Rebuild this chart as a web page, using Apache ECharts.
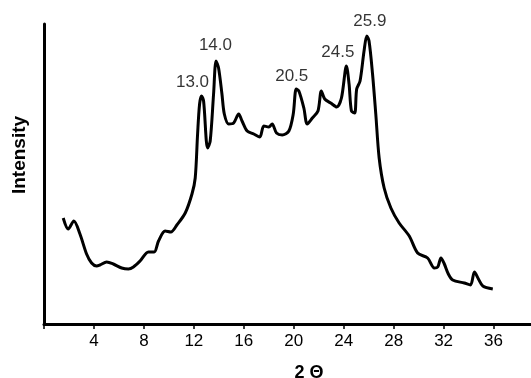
<!DOCTYPE html>
<html>
<head>
<meta charset="utf-8">
<script src="https://cdn.jsdelivr.net/npm/echarts@6/dist/echarts.min.js"></script>
<style>
  html, body { margin: 0; padding: 0; background: #fff; }
  #xrd { width: 531px; height: 378px; }
</style>
</head>
<body>
<div id="xrd"></div>
<script>
// 2θ positions and intensity (arbitrary units)
var theta = [1.54, 1.94, 2.39, 2.88, 3.41, 3.81, 4.21, 4.48, 5.02, 5.55, 6.22, 6.76, 7.16, 7.69, 8.36, 8.82,
  9.17, 9.70, 10.16, 10.64, 11.31, 11.85, 12.11, 12.30, 12.46, 12.62, 12.78, 13.10, 13.31, 13.58, 13.78, 13.98,
  14.25, 14.44, 14.79, 15.19, 15.59, 15.86, 16.27, 16.80, 17.28, 17.60, 18.00, 18.27, 18.62, 19.08, 19.61, 19.96,
  20.20, 20.41, 20.81, 21.08, 21.49, 21.94, 22.21, 22.48, 22.96, 23.44, 23.82, 24.22, 24.43, 24.62, 24.88, 25.04,
  25.31, 25.63, 25.85, 26.03, 26.31, 26.57, 26.84, 27.24, 27.78, 28.44, 29.25, 29.92, 30.72, 31.26, 31.53, 31.79,
  32.06, 32.38, 32.73, 33.66, 34.15, 34.47, 34.79, 35.14, 35.94]
var intensity = [106, 95, 103, 90, 70, 61, 58, 59, 62, 60, 56, 55, 57, 63, 72, 72,
  83, 93, 92, 99, 111, 130, 146, 190, 220, 228, 223, 176, 183, 230, 263, 256,
  230, 210, 200, 201, 210, 203, 193, 190, 187, 198, 197, 200, 191, 189, 193, 210,
  235, 233, 216, 200, 206, 213, 233, 225, 221, 217, 226, 258, 240, 213, 211, 235,
  243, 273, 288, 283, 250, 210, 166, 136, 116, 101, 88, 71, 66, 56, 57, 66,
  60, 50, 44, 41, 39, 52, 45, 38, 35]

// peak annotations: text and where it sits
var peakText = ['13.0', '14.0', '20.5', '24.5', '25.9']
var peakX = [11.89, 13.73, 19.84, 23.53, 26.1]
var peakY = [242, 279, 248, 272, 303]

var xTickStep = 4

var chart = echarts.init(document.getElementById('xrd'))

var curve = theta.map(function (t, i) { return [t, intensity[i]] })
var peaks = peakText.map(function (s, i) { return [peakX[i], peakY[i], s] })

var font = '"Liberation Sans", Arial, sans-serif'

var option = {
  animation: false,
  backgroundColor: '#fff',
  grid: { left: 44, right: 0, top: 24, bottom: 54, outerBoundsMode: 'none', containLabel: false },
  xAxis: {
    type: 'value',
    min: 0,
    max: 39,
    interval: xTickStep,
    name: '2 Θ',
    nameLocation: 'middle',
    nameGap: 40,
    nameTextStyle: { color: '#000', fontFamily: font, fontSize: 18, fontWeight: 'bold', padding: [0, 0, 0, 43] },
    axisLine: { show: true, onZero: false, lineStyle: { color: '#000', width: 3 } },
    axisTick: { show: true, length: 5, lineStyle: { color: '#000', width: 1.5 } },
    axisLabel: {
      color: '#000',
      fontFamily: font,
      fontSize: 17,
      margin: 9,
      showMaxLabel: false,
      formatter: function (v) { return (v > 0 && v % xTickStep === 0) ? String(v) : '' }
    },
    splitLine: { show: false }
  },
  yAxis: {
    type: 'value',
    min: 0,
    max: 300,
    name: 'Intensity',
    nameLocation: 'middle',
    nameRotate: 90,
    nameGap: 15,
    nameTextStyle: { color: '#000', fontFamily: font, fontSize: 19, fontWeight: 'bold', padding: [0, 0, 0, 38] },
    axisLine: { show: true, lineStyle: { color: '#000', width: 3 } },
    axisTick: { show: false },
    axisLabel: { show: false },
    splitLine: { show: false }
  },
  series: [
    {
      type: 'line',
      data: curve,
      smooth: 0.3,
      showSymbol: false,
      lineStyle: { color: '#000', width: 3 }
    },
    {
      type: 'scatter',
      data: peaks,
      symbolSize: 0,
      clip: false,
      label: {
        show: true,
        position: 'inside',
        color: '#000',
        textBorderWidth: 0,
        fontFamily: font,
        fontSize: 17,
        formatter: function (p) { return p.value[2] }
      }
    }
  ]
}

chart.setOption(option)
</script>
</body>
</html>
